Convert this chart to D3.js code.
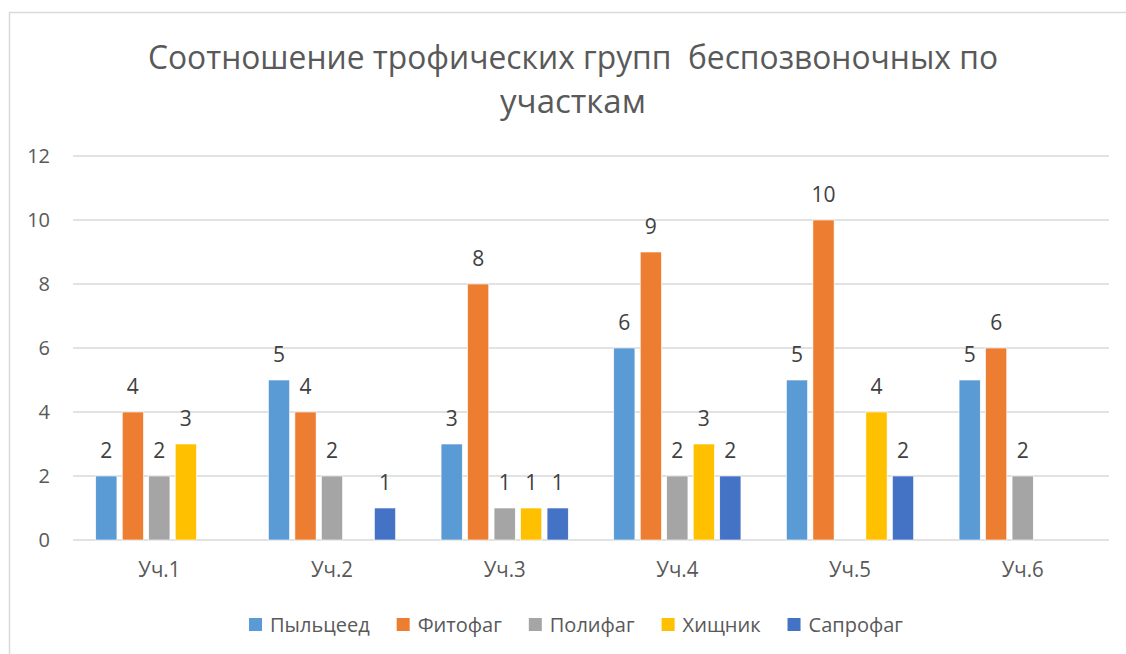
<!DOCTYPE html>
<html>
<head>
<meta charset="utf-8">
<script src="https://cdn.jsdelivr.net/npm/d3@7"></script>
<style>
  body { margin: 0; background: #fff; }
  svg { display: block; }
</style>
</head>
<body>
<svg id="chart" width="1126" height="654"></svg>
<script>
const titleLines = ['Соотношение трофических групп  беспозвоночных по', 'участкам'];
const categories = ['Уч.1', 'Уч.2', 'Уч.3', 'Уч.4', 'Уч.5', 'Уч.6'];
const seriesNames = ['Пыльцеед', 'Фитофаг', 'Полифаг', 'Хищник', 'Сапрофаг'];
const colors = ['#5B9BD5', '#ED7D31', '#A5A5A5', '#FFC000', '#4472C4'];
// values per series, one per plot; null = no bar
const pollen = [2, 5, 3, 6, 5, 5];
const phyto = [4, 4, 8, 9, 10, 6];
const poly = [2, 2, 1, 2, null, 2];
const predator = [3, null, 1, 3, 4, null];
const sapro = [null, 1, 1, 2, 2, null];
const yTicks = [0, 2, 4, 6, 8, 10, 12];

const seriesValues = [pollen, phyto, poly, predator, sapro];
const font = 'Open Sans, Noto Sans, sans-serif';
const textColor = '#595959';

const svg = d3.select('#chart');

// outer chart border
svg.append('rect')
  .attr('x', 9.5).attr('y', 12.5)
  .attr('width', 1200).attr('height', 700)
  .attr('fill', 'none')
  .attr('stroke', '#D9D9D9')
  .attr('stroke-width', 1.5);

const margin = { left: 73, right: 1109, top: 156, bottom: 540 };

const y = d3.scaleLinear().domain([0, 12]).range([margin.bottom, margin.top]);
const x0 = d3.scaleBand().domain(categories).range([margin.left, margin.right]);
const groupW = 132.5;
const x1 = d3.scaleBand().domain(seriesNames)
  .range([(x0.bandwidth() - groupW) / 2, (x0.bandwidth() + groupW) / 2])
  .paddingInner(0.2).paddingOuter(0.1);

// title (keep the double space)
svg.append('text')
  .attr('text-anchor', 'middle')
  .attr('font-family', font)
  .attr('font-size', '33px')
  .attr('fill', textColor)
  .style('white-space', 'pre')
  .selectAll('tspan')
  .data(titleLines)
  .join('tspan')
  .attr('x', 573)
  .attr('y', (d, i) => 69 + i * 44)
  .attr('textLength', (d, i) => i === 0 ? 850 : null)
  .attr('lengthAdjust', 'spacingAndGlyphs')
  .text(d => d);

// gridlines
svg.append('g')
  .selectAll('line')
  .data(yTicks)
  .join('line')
  .attr('x1', margin.left).attr('x2', margin.right)
  .attr('y1', d => y(d)).attr('y2', d => y(d))
  .attr('stroke', '#D9D9D9')
  .attr('stroke-width', 1.5);

// y axis labels
const yAxis = svg.append('g')
  .attr('transform', `translate(${margin.left - 10},0)`)
  .call(d3.axisLeft(y).tickValues(yTicks).tickSize(0).tickPadding(13));
yAxis.select('.domain').remove();
yAxis.selectAll('text')
  .attr('font-family', font)
  .attr('font-size', '20px')
  .attr('fill', textColor);

// x axis labels
const xAxis = svg.append('g')
  .attr('transform', `translate(0,${margin.bottom})`)
  .call(d3.axisBottom(x0).tickSize(0).tickPadding(22));
xAxis.select('.domain').remove();
xAxis.selectAll('text')
  .attr('font-family', font)
  .attr('font-size', '21px')
  .attr('textLength', 42)
  .attr('lengthAdjust', 'spacingAndGlyphs')
  .attr('fill', textColor);

// bars
const flat = [];
categories.forEach((c, ci) => {
  seriesNames.forEach((s, si) => {
    const v = seriesValues[si][ci];
    if (v != null) flat.push({ cat: c, series: s, si, value: v });
  });
});

const groups = svg.append('g');
groups.selectAll('rect')
  .data(flat)
  .join('rect')
  .attr('x', d => x0(d.cat) + x1(d.series))
  .attr('y', d => y(d.value))
  .attr('width', x1.bandwidth())
  .attr('height', d => y(0) - y(d.value))
  .attr('fill', d => colors[d.si])
  .attr('stroke', '#fff')
  .attr('stroke-width', 0.6);

groups.selectAll('text')
  .data(flat)
  .join('text')
  .attr('x', d => x0(d.cat) + x1(d.series) + x1.bandwidth() / 2)
  .attr('y', d => y(d.value) - 18)
  .attr('text-anchor', 'middle')
  .attr('font-family', font)
  .attr('font-size', '21px')
  .attr('fill', '#404040')
  .text(d => d.value);

// legend, laid out from measured text widths and centred
const legendG = svg.append('g').attr('transform', 'translate(0,618)');
const legend = legendG.selectAll('g')
  .data(seriesNames)
  .join('g');
legend.append('rect')
  .attr('width', 13).attr('height', 13)
  .attr('fill', (d, i) => colors[i]);
legend.append('text')
  .attr('x', 21)
  .attr('y', 14)
  .attr('font-family', font)
  .attr('font-size', '20px')
  .attr('fill', textColor)
  .text(d => d);

let lx = 0;
const itemX = [];
legend.each(function () {
  itemX.push(lx);
  const w = d3.select(this).select('text').node().getComputedTextLength();
  lx += 21 + w + 27;
});
const total = lx - 27;
const startX = 576 - total / 2;
legend.attr('transform', (d, i) => `translate(${startX + itemX[i]},0)`);
</script>
</body>
</html>
